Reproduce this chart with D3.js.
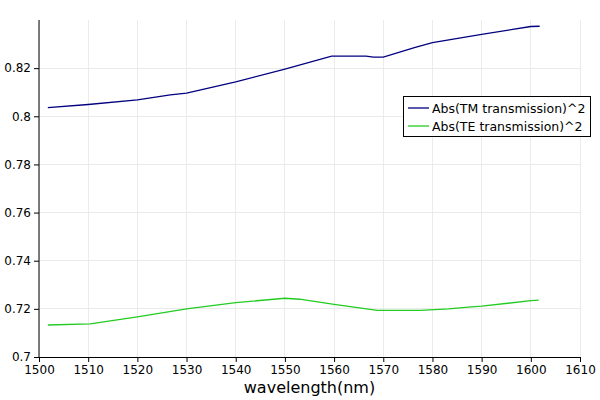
<!DOCTYPE html>
<html><head><meta charset="utf-8">
<script src="https://cdn.jsdelivr.net/npm/d3@7"></script>
<style>body{margin:0;background:#fff}svg{display:block}text{font-family:"DejaVu Sans",sans-serif}</style>
</head><body><svg id="c" width="600" height="400"></svg>
<script>
const tmWavelength = [1501.8,1510,1520,1526.7,1530,1540,1550,1559.5,1566.5,1568,1570,1576.5,1580,1590,1600,1601.8];
const tmValues     = [0.8036,0.8049,0.8068,0.8089,0.8096,0.8143,0.8196,0.8250,0.8250,0.8246,0.8246,0.8286,0.8306,0.8340,0.8373,0.8374];
const teWavelength = [1501.8,1510.4,1520,1530,1540,1550,1553,1560,1568.8,1577.5,1583.3,1587.3,1590,1600,1601.6];
const teValues     = [0.7133,0.7138,0.7167,0.7200,0.7226,0.7244,0.7240,0.7219,0.7194,0.7194,0.7200,0.7207,0.7211,0.7234,0.7236];
const xTicks = [1500,1510,1520,1530,1540,1550,1560,1570,1580,1590,1600,1610];
const yTicks = [0.7,0.72,0.74,0.76,0.78,0.8,0.82];
const seriesNames = ["Abs(TM transmission)^2","Abs(TE transmission)^2"];
const seriesColors = ["#000080","#22cc22"];

const svg = d3.select("#c");
const L=39, R=580, T=20, B=357;
const x = d3.scaleLinear().domain([1500,1610]).range([L,R]);
const y = d3.scaleLinear().domain([0.7,0.84]).range([B,T]);

// grid
svg.append("g").selectAll("line").data(xTicks).join("line")
  .attr("x1",d=>x(d)).attr("x2",d=>x(d)).attr("y1",T).attr("y2",B)
  .attr("stroke","#ebebeb").attr("stroke-width",1).attr("shape-rendering","crispEdges");
svg.append("g").selectAll("line").data(yTicks).join("line")
  .attr("x1",L).attr("x2",R).attr("y1",d=>y(d)).attr("y2",d=>y(d))
  .attr("stroke","#ebebeb").attr("stroke-width",1).attr("shape-rendering","crispEdges");

// lines
const line = d3.line().x(d=>x(d[0])).y(d=>y(d[1]));
const tm = tmWavelength.map((w,i)=>[w,tmValues[i]]);
const te = teWavelength.map((w,i)=>[w,teValues[i]]);
svg.append("path").datum(tm).attr("d",line).attr("fill","none").attr("stroke",seriesColors[0]).attr("stroke-width",1.3);
svg.append("path").datum(te).attr("d",line).attr("fill","none").attr("stroke",seriesColors[1]).attr("stroke-width",1.3);

// axes
const xAxis = svg.append("g").attr("transform",`translate(0,${B})`)
  .call(d3.axisBottom(x).tickValues(xTicks).tickFormat(d3.format("d")).tickSize(5).tickSizeOuter(0));
const yAxis = svg.append("g").attr("transform",`translate(${L},0)`)
  .call(d3.axisLeft(y).tickValues(yTicks).tickFormat(d=>String(+d.toFixed(2))).tickSize(5).tickSizeOuter(0));
[xAxis,yAxis].forEach(a=>{
  a.selectAll("text").attr("font-family","DejaVu Sans, sans-serif").attr("font-size",12).attr("fill","#000");
  a.selectAll("line,path").attr("stroke","#000");
});
yAxis.select(".domain").attr("d",`M0,${T}V${B}`);

svg.append("text").attr("x",(L+R)/2).attr("y",393).attr("text-anchor","middle")
  .attr("font-size",16).attr("fill","#000").text("wavelength(nm)");

// legend
const lg = svg.append("g");
lg.append("rect").attr("x",403.5).attr("y",96.5).attr("width",187).attr("height",40)
  .attr("fill","#fff").attr("stroke","#000").attr("stroke-width",1);
seriesNames.forEach((n,i)=>{
  const yy = 108 + i*18;
  lg.append("line").attr("x1",408).attr("x2",429).attr("y1",yy).attr("y2",yy)
    .attr("stroke",seriesColors[i]).attr("stroke-width",1.3);
  lg.append("text").attr("x",432).attr("y",yy+4.5).attr("font-size",12.5).attr("fill","#000").text(n);
});
</script></body></html>
